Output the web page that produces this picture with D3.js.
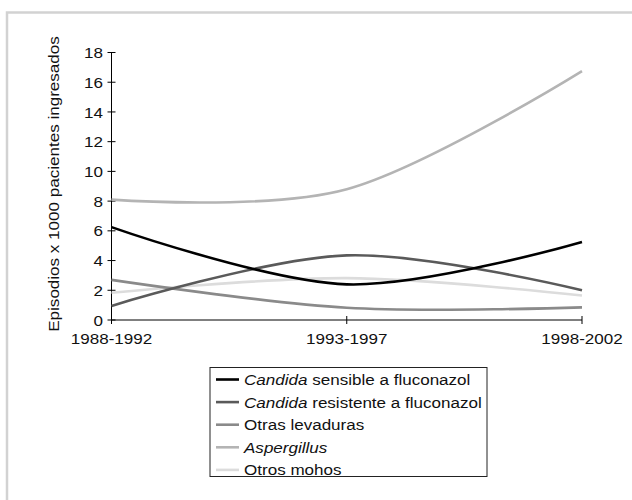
<!DOCTYPE html>
<html>
<head>
<meta charset="utf-8">
<script src="https://cdn.jsdelivr.net/npm/d3@7"></script>
<style>
  body { margin: 0; background: #fff; }
  svg { font-family: "Liberation Sans", Arial, sans-serif; }
</style>
</head>
<body>
<div id="chart"></div>
<script>
const periods = ["1988-1992", "1993-1997", "1998-2002"];
const yTicks = [0, 2, 4, 6, 8, 10, 12, 14, 16, 18];

const candidaSensible = [6.25, 2.4, 5.25];
const candidaResistente = [0.95, 4.35, 2.0];
const otrasLevaduras = [2.7, 0.82, 0.85];
const aspergillus = [8.1, 8.8, 16.75];
const otrosMohos = [1.83, 2.82, 1.65];

const series = [
  { name: "Candida", rest: " sensible a fluconazol", values: candidaSensible, color: "#000000" },
  { name: "Candida", rest: " resistente a fluconazol", values: candidaResistente, color: "#5a5a5a" },
  { name: "", rest: "Otras levaduras", values: otrasLevaduras, color: "#8a8a8a" },
  { name: "Aspergillus", rest: "", values: aspergillus, color: "#b4b4b4" },
  { name: "", rest: "Otros mohos", values: otrosMohos, color: "#dcdcdc" }
];

const width = 632, height = 500;
const fs = 15.5, sx = 1.1; // the original text is a little stretched sideways

const svg = d3.select("#chart").append("svg")
  .attr("width", width)
  .attr("height", height);

// light frame (top and left only)
svg.append("path")
  .attr("d", `M7,${height} L7,12.5 L${width},12.5`)
  .attr("fill", "none")
  .attr("stroke", "#d2d2d2")
  .attr("stroke-width", 2.5);

const x = d3.scalePoint().domain(periods).range([111.5, 582]);
const y = d3.scaleLinear().domain([0, 18]).range([320, 52.5]);

const g = svg.append("g");

// y axis
g.append("line")
  .attr("x1", x(periods[0])).attr("x2", x(periods[0]))
  .attr("y1", y(0)).attr("y2", y(18))
  .attr("stroke", "#000").attr("stroke-width", 1);
g.selectAll(".ytick").data(yTicks).join("line")
  .attr("x1", x(periods[0]) - 4).attr("x2", x(periods[0]) + 4)
  .attr("y1", d => y(d)).attr("y2", d => y(d))
  .attr("stroke", "#000");
g.selectAll(".ylab").data(yTicks).join("text")
  .attr("transform", d => `translate(${x(periods[0]) - 8.5},${y(d)}) scale(${sx},1)`)
  .attr("dy", "0.36em")
  .attr("text-anchor", "end")
  .attr("font-size", fs)
  .attr("fill", "#111")
  .text(d => d);

// x axis
g.append("line")
  .attr("x1", x(periods[0])).attr("x2", x(periods[2]))
  .attr("y1", y(0)).attr("y2", y(0))
  .attr("stroke", "#000");
g.selectAll(".xtick").data(periods).join("line")
  .attr("x1", d => x(d)).attr("x2", d => x(d))
  .attr("y1", y(0) - 4).attr("y2", y(0) + 4)
  .attr("stroke", "#000");
g.selectAll(".xlab").data(periods).join("text")
  .attr("transform", d => `translate(${x(d)},${y(0) + 24}) scale(${sx},1)`)
  .attr("text-anchor", "middle")
  .attr("font-size", fs)
  .attr("fill", "#111")
  .text(d => d);

// y axis title
svg.append("text")
  .attr("transform", `translate(59,184) rotate(-90) scale(${sx},1)`)
  .attr("text-anchor", "middle")
  .attr("font-size", fs)
  .attr("fill", "#111")
  .text("Episodios x 1000 pacientes ingresados");

// lines, drawn from lightest to darkest
const line = d3.line()
  .x((d, i) => x(periods[i]))
  .y(d => y(d))
  .curve(d3.curveCardinal.tension(0));

g.selectAll(".series").data(series.slice().reverse()).join("path")
  .attr("d", d => line(d.values))
  .attr("fill", "none")
  .attr("stroke", d => d.color)
  .attr("stroke-width", 2.6);

// legend
const legend = svg.append("g");
legend.append("rect")
  .attr("x", 210).attr("y", 367.5)
  .attr("width", 277).attr("height", 109)
  .attr("fill", "#fff")
  .attr("stroke", "#222")
  .attr("stroke-width", 1);

const rows = legend.selectAll(".row").data(series).join("g")
  .attr("transform", (d, i) => `translate(0,${379.5 + i * 22.6})`);
rows.append("line")
  .attr("x1", 216).attr("x2", 239)
  .attr("y1", 0).attr("y2", 0)
  .attr("stroke", d => d.color)
  .attr("stroke-width", 2.6);
const txt = rows.append("text")
  .attr("transform", `translate(244,0) scale(${sx},1)`)
  .attr("dy", "0.35em")
  .attr("font-size", fs)
  .attr("fill", "#111");
txt.append("tspan")
  .attr("font-style", "italic")
  .text(d => d.name);
txt.append("tspan")
  .text(d => d.rest);
</script>
</body>
</html>
